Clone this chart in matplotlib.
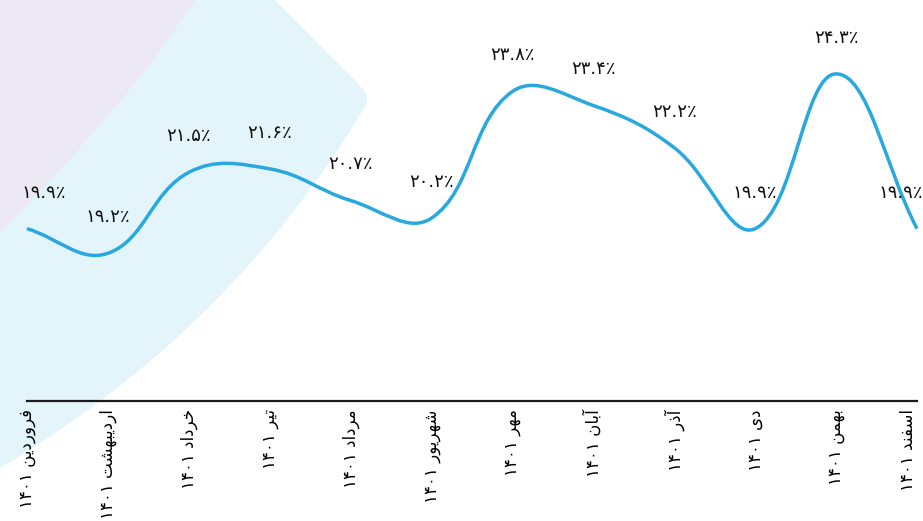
import numpy as np
import matplotlib
matplotlib.use("Agg")
import matplotlib.pyplot as plt
from matplotlib.path import Path
from matplotlib.patches import PathPatch

plt.rcParams['font.family'] = ['DejaVu Sans']

# ---- data ----
months = ["فروردین", "اردیبهشت", "خرداد", "تیر", "مرداد", "شهریور",
          "مهر", "آبان", "آذر", "دی", "بهمن", "اسفند"]
year = "۱۴۰۱"
values = [19.9, 19.2, 21.5, 21.6, 20.7, 20.2, 23.8, 23.4, 22.2, 19.9, 24.3, 19.9]

# ---- minimal Persian shaping (matplotlib has no bidi / shaping) ----
FORMS = {  # iso, fin, ini, med
    'ا': (0xFE8D, 0xFE8E, None, None),
    'آ': (0xFE81, 0xFE82, None, None),
    'ب': (0xFE8F, 0xFE90, 0xFE91, 0xFE92),
    'ت': (0xFE95, 0xFE96, 0xFE97, 0xFE98),
    'خ': (0xFEA5, 0xFEA6, 0xFEA7, 0xFEA8),
    'د': (0xFEA9, 0xFEAA, None, None),
    'ذ': (0xFEAB, 0xFEAC, None, None),
    'ر': (0xFEAD, 0xFEAE, None, None),
    'س': (0xFEB1, 0xFEB2, 0xFEB3, 0xFEB4),
    'ش': (0xFEB5, 0xFEB6, 0xFEB7, 0xFEB8),
    'ف': (0xFED1, 0xFED2, 0xFED3, 0xFED4),
    'م': (0xFEE1, 0xFEE2, 0xFEE3, 0xFEE4),
    'ن': (0xFEE5, 0xFEE6, 0xFEE7, 0xFEE8),
    'ه': (0xFEE9, 0xFEEA, 0xFEEB, 0xFEEC),
    'و': (0xFEED, 0xFEEE, None, None),
    'ی': (0xFEEF, 0xFEF0, 0xFEF3, 0xFEF4),
}


def shape_word(w):
    out = []
    for i, ch in enumerate(w):
        f = FORMS.get(ch)
        if f is None:
            out.append(ch)
            continue
        prev = w[i - 1] if i > 0 else None
        nxt = w[i + 1] if i < len(w) - 1 else None
        jp = prev is not None and prev in FORMS and FORMS[prev][2] is not None
        jn = nxt is not None and nxt in FORMS and f[2] is not None
        if jp and jn:
            code = f[3]
        elif jp:
            code = f[1]
        elif jn:
            code = f[2]
        else:
            code = f[0]
        out.append(chr(code))
    return ''.join(out)


def visual(month, yr):
    return yr + " " + shape_word(month)[::-1]


FA = str.maketrans("0123456789", "۰۱۲۳۴۵۶۷۸۹")


def fa_pct(v):
    return f"{v:.1f}".translate(FA) + "٪"


# ---- figure ----
W, H = 923, 521
fig = plt.figure(figsize=(W / 100, H / 100), dpi=100)
fig.patch.set_facecolor('white')


def fpx(pts):
    return [(x / W, 1 - y / H) for x, y in pts]


# decorative background bands (figure pixel coordinates)
M, L, C3, Z = Path.MOVETO, Path.LINETO, Path.CURVE3, Path.CLOSEPOLY
blue_v = [(0, 0), (275, 0), (360, 86), (372, 97), (364, 108),
          (232, 330), (0, 468), (0, 0)]
blue_c = [M, L, L, C3, C3, C3, C3, Z]
fig.add_artist(PathPatch(Path(fpx(blue_v), blue_c), transform=fig.transFigure,
                         facecolor='#E3F4FB', edgecolor='none', zorder=-2))
lav_v = [(0, 0), (195, 0), (135, 95), (0, 233), (0, 0)]
lav_c = [M, L, C3, C3, Z]
fig.add_artist(PathPatch(Path(fpx(lav_v), lav_c), transform=fig.transFigure,
                         facecolor='#ECE9F4', edgecolor='none', zorder=-1))

ax = fig.add_axes([27 / W, 1 - 401 / H, (917 - 27) / W, 401 / H])
ax.patch.set_alpha(0)
n = len(values)
xs = np.arange(n, dtype=float)
ys = np.array(values, dtype=float)
ax.set_xlim(0, n - 1)
ax.set_ylim(15.0, 26.4)

# smooth spline (Chart.js-like, tension 0.4) computed in pixel-like units
sx, sy = 81.0, 35.0
P = np.column_stack([xs * sx, ys * sy])
t = 0.4
cpp, cpn = [], []
for i in range(n):
    pv = P[i - 1] if i > 0 else P[i]
    nx = P[i + 1] if i < n - 1 else P[i]
    d01 = np.hypot(*(P[i] - pv))
    d12 = np.hypot(*(nx - P[i]))
    s = d01 + d12
    s01, s12 = d01 / s, d12 / s
    cpp.append(P[i] - t * s01 * (nx - pv))
    cpn.append(P[i] + t * s12 * (nx - pv))
verts = [P[0]]
codes = [Path.MOVETO]
for i in range(n - 1):
    verts += [cpn[i], cpp[i + 1], P[i + 1]]
    codes += [Path.CURVE4] * 3
verts = np.array(verts) / np.array([sx, sy])
ax.add_patch(PathPatch(Path(verts, codes), facecolor='none',
                       edgecolor='#29A8E0', lw=2.5, capstyle='butt',
                       clip_on=False, zorder=3))

for i, v in enumerate(values):
    ha, dx = 'center', 0
    if i == 0:
        ha, dx = 'left', -4
    elif i == n - 1:
        ha, dx = 'right', 4
    ax.annotate(fa_pct(v), (xs[i], v), xytext=(dx, 26),
                textcoords='offset points', ha=ha, va='center',
                fontsize=13, color='#111111')

for s in ['top', 'right', 'left']:
    ax.spines[s].set_visible(False)
ax.spines['bottom'].set_linewidth(1.6)
ax.spines['bottom'].set_color('#1a1a1a')
ax.set_yticks([])
ax.set_xticks(xs)
ax.set_xticklabels([visual(m, year) for m in months], rotation=90,
                   fontsize=12, va='top', ha='center')
ax.get_xticklabels()[-1].set_ha('right')
ax.tick_params(axis='x', length=0, pad=6)

fig.savefig('out.png', dpi=100)
